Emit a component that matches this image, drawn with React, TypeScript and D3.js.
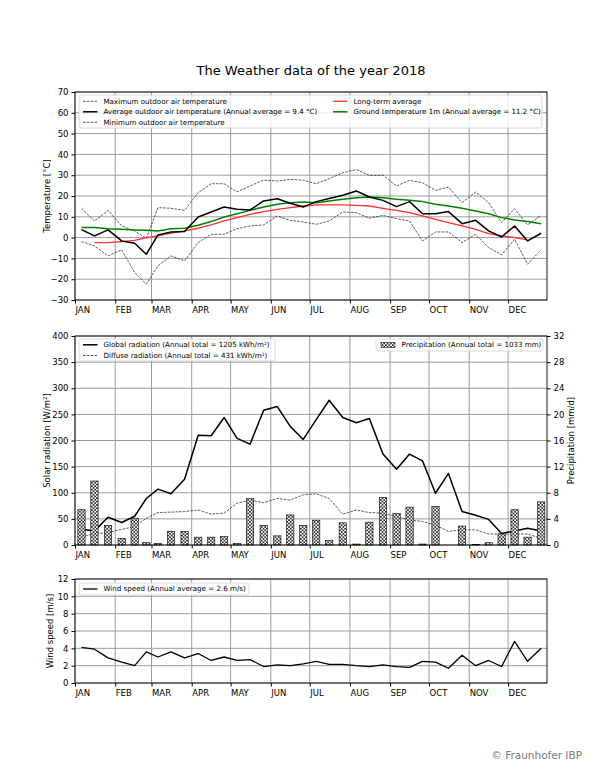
import { useEffect, useRef } from 'react';
import * as d3 from 'd3';

const YEAR = 2018;
const monthLabels = ['JAN', 'FEB', 'MAR', 'APR', 'MAY', 'JUN', 'JUL', 'AUG', 'SEP', 'OCT', 'NOV', 'DEC'];

// 10-day values, three per month
const tempMax = [14.1, 8.0, 13.1, 5.6, 3.2, -0.3, 14.4, 14.1, 13.1, 21.6, 25.9, 25.9, 22.0, 24.8, 27.6, 27.2, 28.0, 27.6, 25.9, 28.3, 31.2, 32.7, 29.9, 30.0, 24.8, 27.5, 26.4, 22.7, 24.3, 16.8, 21.9, 16.8, 7.2, 13.9, 6.1, 10.7];
const tempAvg = [3.8, 0.8, 3.7, -1.6, -2.7, -8.0, 1.3, 2.7, 2.9, 9.9, 12.3, 14.7, 13.6, 13.3, 17.6, 18.7, 16.5, 14.7, 17.3, 18.8, 20.4, 22.4, 19.5, 17.9, 14.9, 17.3, 11.5, 11.5, 12.5, 6.7, 8.3, 3.2, 0.3, 5.6, -1.6, 2.1];
const tempMin = [-1.9, -4.0, -8.8, -5.9, -16.8, -22.4, -13.6, -8.8, -11.2, -2.4, 1.6, 1.6, 4.3, 5.6, 6.1, 10.4, 8.3, 7.5, 6.4, 8.0, 12.3, 12.0, 9.3, 10.7, 9.1, 8.0, -1.6, 2.7, 2.7, -2.4, 1.6, -4.8, -8.3, -0.8, -12.8, -5.9];
const tempLongTerm = [null, -2.4, -2.4, -1.9, -1.3, 0.0, 0.8, 2.1, 3.2, 4.5, 6.1, 8.0, 9.6, 11.2, 12.5, 13.6, 14.4, 15.2, 15.7, 15.7, 15.7, 15.5, 15.2, 14.1, 13.1, 12.0, 10.4, 8.8, 7.2, 5.6, 4.0, 1.9, 0.8, 0.0, -1.1, null];
const groundTemp = [4.8, 4.8, 4.3, 4.0, 3.7, 3.5, 3.2, 4.2, 4.5, 5.9, 7.7, 9.9, 11.5, 13.1, 14.7, 16.0, 16.8, 17.1, 16.8, 17.6, 18.4, 19.2, 19.5, 19.2, 18.4, 17.9, 17.3, 16.0, 15.2, 14.1, 12.8, 11.5, 9.6, 8.5, 7.7, 6.7];

const globalRad = [30, 27, 53, 43, 55, 89, 107, 98, 126, 210, 209, 244, 204, 193, 258, 265, 227, 202, 240, 277, 244, 234, 242, 174, 145, 174, 161, 99, 137, 64, 57, 49, 22, 27, 32, 27];
const diffuseRad = [16, 21, 24, 30, 35, 51, 62, 63, 64, 67, 59, 61, 80, 86, 81, 89, 86, 96, 98, 89, 59, 67, 62, 61, 54, 48, 45, 38, 26, 29, 29, 21, 21, 21, 21, 13];
const precipitation = [5.4, 9.8, 3.0, 1.0, 4.1, 0.35, 0.25, 2.1, 2.1, 1.2, 1.2, 1.3, 0.25, 7.1, 3.0, 1.4, 4.6, 3.0, 3.8, 0.66, 3.4, 0.15, 3.5, 7.3, 4.8, 5.8, 0.15, 5.9, 0, 2.9, 0.1, 0.35, 1.7, 5.4, 1.2, 6.6];

const windSpeed = [4.1, 3.9, 2.9, 2.4, 2.0, 3.6, 3.0, 3.6, 2.9, 3.4, 2.6, 3.0, 2.6, 2.7, 1.9, 2.1, 2.0, 2.2, 2.5, 2.15, 2.15, 2.0, 1.9, 2.1, 1.9, 1.8, 2.5, 2.4, 1.7, 3.2, 2.0, 2.6, 1.9, 4.8, 2.5, 4.0];

const tempTicks = [-30, -20, -10, 0, 10, 20, 30, 40, 50, 60, 70];
const radTicks = [0, 50, 100, 150, 200, 250, 300, 350, 400];
const precipTicks = [0, 4, 8, 12, 16, 20, 24, 28, 32];
const windTicks = [0, 2, 4, 6, 8, 10, 12];

const FONT = '"DejaVu Sans", sans-serif';
const GRID = '#9c9c9c';

// midpoint of each 10-day period
const decadeDates = monthLabels.flatMap((_, m) =>
  [0, 1, 2].map(k => {
    const start = new Date(YEAR, m, 1 + 10 * k).getTime();
    const end = (k < 2 ? new Date(YEAR, m, 11 + 10 * k) : new Date(YEAR, m + 1, 1)).getTime();
    return new Date((start + end) / 2);
  })
);
const monthStarts = monthLabels.map((_, m) => new Date(YEAR, m, 1));

export default function App() {
  const ref = useRef<SVGSVGElement>(null);

  useEffect(() => {
    if (!ref.current) return;
    const svg = d3.select(ref.current);
    svg.selectAll('*').remove();

    const left = 75, right = 547;
    const x = d3.scaleTime()
      .domain([new Date(YEAR, 0, 1), new Date(YEAR, 11, 31)])
      .range([left, right]);

    const defs = svg.append('defs');
    const pat = defs.append('pattern')
      .attr('id', 'hatch')
      .attr('patternUnits', 'userSpaceOnUse')
      .attr('width', 3.4)
      .attr('height', 3.4);
    pat.append('rect').attr('width', 3.4).attr('height', 3.4).attr('fill', '#fff');
    pat.append('path')
      .attr('d', 'M0,0L3.4,3.4M3.4,0L0,3.4')
      .attr('stroke', '#000')
      .attr('stroke-width', 0.7);

    svg.append('text')
      .attr('x', (left + right) / 2)
      .attr('y', 75)
      .attr('text-anchor', 'middle')
      .attr('font-family', FONT)
      .attr('font-size', 13)
      .text(`The Weather data of the year ${YEAR}`);

    const panel = (top: number, bottom: number, domain: [number, number], ticks: number[], label: string, labelX: number) => {
      const y = d3.scaleLinear().domain(domain).range([bottom, top]);
      const g = svg.append('g');

      // grid
      g.append('g').selectAll('line').data(ticks).join('line')
        .attr('x1', left).attr('x2', right)
        .attr('y1', d => y(d)).attr('y2', d => y(d))
        .attr('stroke', GRID).attr('stroke-width', 1);
      g.append('g').selectAll('line').data(monthStarts).join('line')
        .attr('x1', d => x(d)).attr('x2', d => x(d))
        .attr('y1', top).attr('y2', bottom)
        .attr('stroke', GRID).attr('stroke-width', 1);

      // left axis
      g.append('g')
        .attr('transform', `translate(${left},0)`)
        .call(d3.axisLeft(y).tickValues(ticks).tickSize(3.5).tickPadding(3))
        .call(a => a.select('.domain').remove())
        .call(a => a.selectAll('.tick text').attr('font-family', FONT).attr('font-size', 8.5).attr('fill', '#000'));

      // month axis
      g.append('g')
        .attr('transform', `translate(0,${bottom})`)
        .call(d3.axisBottom(x).tickValues(monthStarts).tickFormat((_, i) => monthLabels[i]).tickSize(3.5).tickPadding(3))
        .call(a => a.select('.domain').remove())
        .call(a => a.selectAll('.tick text')
          .attr('text-anchor', 'start')
          .attr('font-family', FONT).attr('font-size', 8.5).attr('fill', '#000'));

      g.append('text')
        .attr('transform', `translate(${labelX},${(top + bottom) / 2}) rotate(-90)`)
        .attr('text-anchor', 'middle')
        .attr('dy', '0.35em')
        .attr('font-family', FONT)
        .attr('font-size', 8.5)
        .text(label);

      return { y, g, top, bottom };
    };

    const frame = (top: number, bottom: number) => {
      svg.append('rect')
        .attr('x', left).attr('y', top)
        .attr('width', right - left).attr('height', bottom - top)
        .attr('fill', 'none').attr('stroke', '#000').attr('stroke-width', 0.9);
    };

    type Item = { label: string; color?: string; dash?: string; width?: number; hatch?: boolean };
    const legend = (x0: number, y0: number, w: number, h: number, rows: number[], cols: number[], items: (Item & { row: number; col: number })[]) => {
      const g = svg.append('g');
      g.append('rect')
        .attr('x', x0).attr('y', y0).attr('width', w).attr('height', h)
        .attr('rx', 2)
        .attr('fill', '#fff').attr('fill-opacity', 0.8)
        .attr('stroke', '#d0d0d0').attr('stroke-width', 0.8);
      items.forEach(it => {
        const cx = cols[it.col];
        const cy = rows[it.row];
        if (it.hatch) {
          g.append('rect')
            .attr('x', cx).attr('y', cy - 2.5).attr('width', 14).attr('height', 5)
            .attr('fill', 'url(#hatch)').attr('stroke', '#000').attr('stroke-width', 0.5);
        } else {
          g.append('line')
            .attr('x1', cx).attr('x2', cx + 14.5)
            .attr('y1', cy).attr('y2', cy)
            .attr('stroke', it.color!)
            .attr('stroke-width', it.width ?? 1)
            .attr('stroke-dasharray', it.dash ?? null);
        }
        g.append('text')
          .attr('x', cx + 20.5).attr('y', cy)
          .attr('dy', '0.35em')
          .attr('font-family', FONT)
          .attr('font-size', 7.1)
          .text(it.label);
      });
    };

    const lineOf = (y: d3.ScaleLinear<number, number>) =>
      d3.line<number | null>()
        .defined(d => d != null)
        .x((_, i) => x(decadeDates[i]))
        .y(d => y(d as number));

    const draw = (g: d3.Selection<SVGGElement, unknown, null, undefined>, y: d3.ScaleLinear<number, number>, data: (number | null)[], color: string, width: number, dash?: string) => {
      g.append('path')
        .datum(data)
        .attr('d', lineOf(y))
        .attr('fill', 'none')
        .attr('stroke', color)
        .attr('stroke-width', width)
        .attr('stroke-linejoin', 'round')
        .attr('stroke-dasharray', dash ?? null);
    };

    const RED = '#ff3030';
    const DASH = '2.6,1.2';

    // ---------- temperature ----------
    const t = panel(92, 300, [-30, 70], tempTicks, 'Temperature [°C]', 47);
    draw(t.g, t.y, tempMax, '#333', 0.8, DASH);
    draw(t.g, t.y, tempMin, '#333', 0.8, DASH);
    draw(t.g, t.y, tempLongTerm, RED, 1.3);
    draw(t.g, t.y, groundTemp, '#008000', 1.5);
    draw(t.g, t.y, tempAvg, '#000', 1.5);
    frame(92, 300);
    legend(79, 95, 463, 33, [101.3, 111.8, 122.3], [83, 333], [
      { row: 0, col: 0, label: 'Maximum outdoor air temperature', color: '#333', width: 0.8, dash: DASH },
      { row: 1, col: 0, label: 'Average outdoor air temperature (Annual average = 9.4 °C)', color: '#000', width: 1.5 },
      { row: 2, col: 0, label: 'Minimum outdoor air temperature', color: '#333', width: 0.8, dash: DASH },
      { row: 0, col: 1, label: 'Long-term average', color: RED, width: 1.3 },
      { row: 1, col: 1, label: 'Ground temperature 1m (Annual average = 11.2 °C)', color: '#008000', width: 1.5 },
    ]);

    // ---------- radiation & precipitation ----------
    const r = panel(336, 545, [0, 400], radTicks, 'Solar radiation [W/m²]', 47);
    draw(r.g, r.y, globalRad, '#000', 1.5);
    draw(r.g, r.y, diffuseRad, '#333', 0.8, DASH);

    const yP = d3.scaleLinear().domain([0, 32]).range([545, 336]);
    const barW = 7.3;
    r.g.append('g').selectAll('rect').data(precipitation).join('rect')
      .attr('x', (_, i) => x(decadeDates[i]) - barW / 2)
      .attr('y', d => yP(d))
      .attr('width', barW)
      .attr('height', d => yP(0) - yP(d))
      .attr('fill', 'url(#hatch)')
      .attr('stroke', '#000')
      .attr('stroke-width', 0.6);

    r.g.append('g')
      .attr('transform', `translate(${right},0)`)
      .call(d3.axisRight(yP).tickValues(precipTicks).tickSize(3.5).tickPadding(3))
      .call(a => a.select('.domain').remove())
      .call(a => a.selectAll('.tick text').attr('font-family', FONT).attr('font-size', 8.5).attr('fill', '#000'));
    r.g.append('text')
      .attr('transform', `translate(571,${(336 + 545) / 2}) rotate(-90)`)
      .attr('text-anchor', 'middle')
      .attr('dy', '0.35em')
      .attr('font-family', FONT)
      .attr('font-size', 8.5)
      .text('Precipitation [mm/d]');
    frame(336, 545);
    legend(79, 339, 196, 22, [344.8, 355.5], [83], [
      { row: 0, col: 0, label: 'Global radiation (Annual total = 1205 kWh/m²)', color: '#000', width: 1.5 },
      { row: 1, col: 0, label: 'Diffuse radiation (Annual total = 431 kWh/m²)', color: '#333', width: 0.8, dash: DASH },
    ]);
    legend(376, 339, 167, 12, [345], [381], [
      { row: 0, col: 0, label: 'Precipitation (Annual total = 1033 mm)', hatch: true },
    ]);

    // ---------- wind ----------
    const w = panel(579, 683, [0, 12], windTicks, 'Wind speed [m/s]', 50);
    draw(w.g, w.y, windSpeed, '#000', 1.3);
    frame(579, 683);
    legend(79, 583, 170, 12, [589], [83], [
      { row: 0, col: 0, label: 'Wind speed (Annual average = 2.6 m/s)', color: '#000', width: 1.3 },
    ]);

    svg.append('text')
      .attr('x', 582)
      .attr('y', 759)
      .attr('text-anchor', 'end')
      .attr('font-family', FONT)
      .attr('font-size', 10.5)
      .attr('fill', '#7a7a7a')
      .text('© Fraunhofer IBP');
  }, []);

  return (
    <svg
      ref={ref}
      width={608}
      height={768}
      style={{ position: 'absolute', left: 0, top: 0, background: '#fff' }}
    />
  );
}
